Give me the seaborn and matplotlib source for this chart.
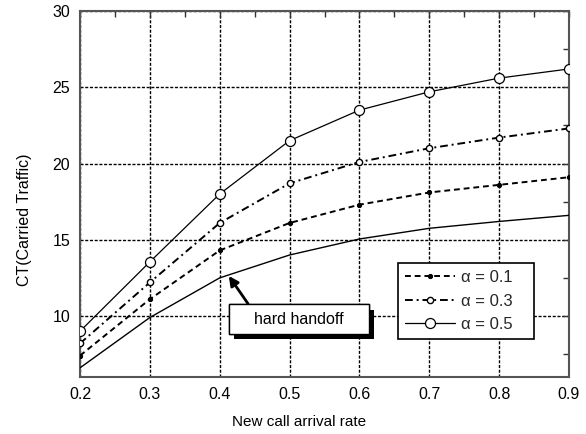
import numpy as np
import pandas as pd
import matplotlib
matplotlib.use("Agg")
import matplotlib.pyplot as plt
import matplotlib.patheffects as pe
from matplotlib.ticker import MultipleLocator
import seaborn as sns

# ---- data ----
rate = [0.2, 0.3, 0.4, 0.5, 0.6, 0.7, 0.8, 0.9]
alpha_01 = [7.4, 11.1, 14.3, 16.1, 17.3, 18.1, 18.6, 19.1]
alpha_03 = [8.2, 12.2, 16.1, 18.7, 20.1, 21.0, 21.7, 22.3]
alpha_05 = [9.0, 13.55, 18.0, 21.5, 23.5, 24.7, 25.6, 26.2]
hard_handoff = [6.6, 9.9, 12.5, 14.0, 15.05, 15.75, 16.2, 16.6]
series_labels = ["α = 0.1", "α = 0.3", "α = 0.5"]
xticks = [0.2, 0.3, 0.4, 0.5, 0.6, 0.7, 0.8, 0.9]
yticks = [10, 15, 20, 25, 30]

sns.set_theme(style="white")
plt.rcParams['font.family'] = ['Liberation Sans', 'DejaVu Sans']

df = pd.DataFrame({
    "rate": rate * 4,
    "ct": alpha_01 + alpha_03 + alpha_05 + hard_handoff,
    "series": [series_labels[0]] * 8 + [series_labels[1]] * 8 + [series_labels[2]] * 8 + ["hard"] * 8,
})

fig = plt.figure(figsize=(5.86, 4.34), dpi=100)
ax = fig.add_axes([80 / 586, 1 - 377 / 434, 489 / 586, 366 / 434])

styles = {
    series_labels[0]: dict(linestyle=(0, (3, 2)), lw=1.4, marker='o', ms=3, mfc='black', mec='black'),
    series_labels[1]: dict(linestyle=(0, (4, 2, 1, 2)), lw=1.4, marker='o', ms=4.5, mfc='white', mec='black', mew=1),
    series_labels[2]: dict(linestyle='-', lw=0.9, marker='o', ms=7.2, mfc='white', mec='black', mew=0.9),
    "hard": dict(linestyle='-', lw=1.0),
}
for name in ["hard"] + series_labels:
    sub = df[df["series"] == name]
    sns.lineplot(data=sub, x="rate", y="ct", ax=ax, color='black',
                 label=None if name == "hard" else name, zorder=3,
                 **styles[name])

ax.set_xlim(0.2, 0.9)
ax.set_ylim(6, 30)
ax.set_xticks(xticks)
ax.set_yticks(yticks)
ax.set_xticklabels([f"{v:.1f}" for v in xticks])
ax.set_yticklabels([str(v) for v in yticks])
ax.xaxis.set_minor_locator(MultipleLocator(0.05))
ax.yaxis.set_minor_locator(MultipleLocator(2.5))
ax.tick_params(which='both', direction='in', top=True, right=True, length=4,
               width=1, color='#333333', labelsize=11.5, labelcolor='black', pad=7)
ax.grid(True, which='major', color='black', linestyle=(0, (2.2, 1.2)), lw=1.0)
for s in ax.spines.values():
    s.set_color('#555555')
    s.set_linewidth(1.5)

ax.set_xlabel("New call arrival rate", fontsize=11, color='black')
ax.set_ylabel("CT(Carried Traffic)", fontsize=11.5, color='black')
ax.xaxis.set_label_coords(0.448, -0.104)
ax.yaxis.set_label_coords(-0.098, 0.43)

leg = ax.legend(loc='upper left', bbox_to_anchor=(0.65, 0.1, 0.278, 0.212),
                mode='expand', borderaxespad=0,
                fontsize=12, handlelength=3.0, labelspacing=0.5, borderpad=0.45,
                handletextpad=0.35, fancybox=False, frameon=True, framealpha=1)
leg.get_frame().set_edgecolor('black')
leg.get_frame().set_linewidth(1.2)

t = ax.annotate("    hard handoff    ", xy=(0.413, 12.63), xytext=(0.513, 9.8),
                ha='center', va='center', fontsize=11.5, color='black',
                bbox=dict(boxstyle='square,pad=0.45', fc='white', ec='black', lw=1),
                arrowprops=dict(arrowstyle='-|>', color='black', lw=2, mutation_scale=14,
                                shrinkA=0, shrinkB=0, relpos=(0.14, 1.0)), zorder=5)
t.get_bbox_patch().set_path_effects([
    pe.withSimplePatchShadow(offset=(4, -4), shadow_rgbFace='black', alpha=1),
    pe.Normal()])

fig.savefig("out.png", dpi=100)
